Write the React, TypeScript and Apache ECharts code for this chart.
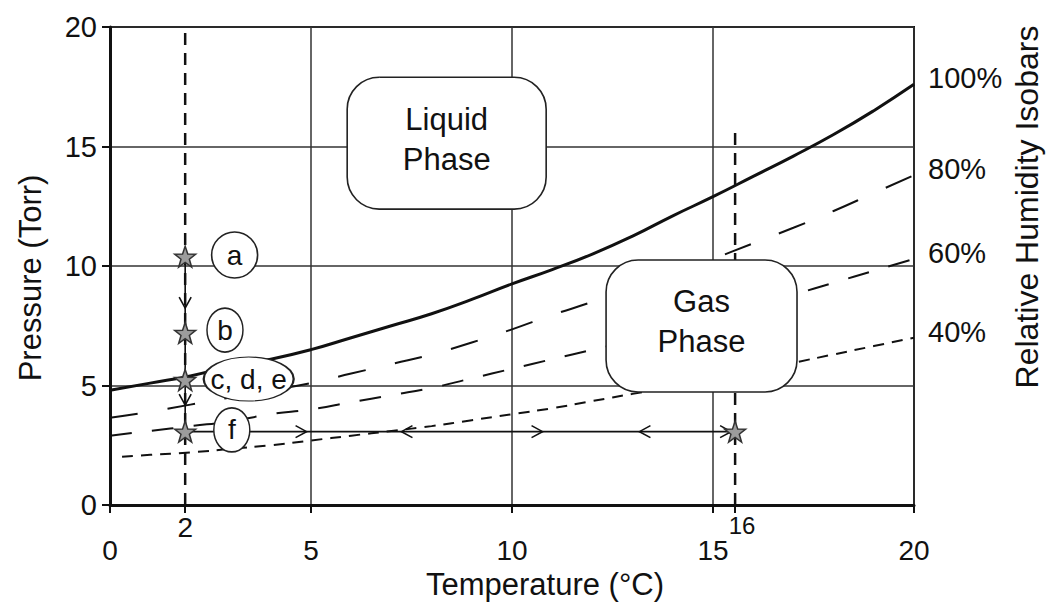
import React, { useEffect, useRef } from 'react';
import * as echarts from 'echarts';

// ---------- data ----------
const temperatures = [0, 1, 2, 3, 4, 5, 6, 7, 8, 9, 10, 11, 12, 13, 14, 15, 16, 17, 18, 19, 20];
const rh100 = [4.8, 5.1, 5.4, 5.8, 6.1, 6.5, 7.0, 7.5, 8.0, 8.6, 9.25, 9.85, 10.5, 11.25, 12.1, 12.9, 13.75, 14.6, 15.5, 16.5, 17.6];
const rh80 = [3.65, 3.9, 4.2, 4.5, 4.8, 5.1, 5.5, 5.9, 6.3, 6.8, 7.35, 7.95, 8.5, 9.1, 9.7, 10.3, 10.95, 11.6, 12.3, 13.05, 13.8];
const rh60 = [2.9, 3.1, 3.3, 3.5, 3.8, 4.0, 4.3, 4.6, 4.9, 5.3, 5.7, 6.1, 6.5, 6.9, 7.4, 7.85, 8.3, 8.8, 9.3, 9.8, 10.3];
const temps40 = [0.3, 1, 2, 3, 4, 5, 6, 7, 8, 9, 10, 11, 12, 13, 14, 15, 16, 17, 18, 19, 20];
const rh40 = [2.02, 2.1, 2.2, 2.35, 2.5, 2.7, 2.9, 3.1, 3.3, 3.55, 3.8, 4.05, 4.35, 4.65, 4.95, 5.3, 5.6, 5.95, 6.3, 6.65, 7.0];
const isobarNames = ['100%', '80%', '60%', '40%'];

// dashed reference temperatures (labelled 2 and 16)
const markerTemps = [1.87, 15.55];
const markerLabels = ['2', '16'];
const markerTops = [20, 15.9];

// process path a -> f -> heating
const pathTemps = [1.87, 1.87, 15.55];
const pathPressures = [10.39, 3.07, 3.07];

// states (stars)
const starTemps = [1.87, 1.87, 1.87, 1.87, 15.55];
const starPressures = [10.39, 7.2, 5.23, 3.07, 3.07];

// state labels
const stateLabels = ['a', 'b', 'c, d, e', 'f'];
const labelTemps = [3.1, 2.86, 3.45, 3.03];
const labelPressures = [10.46, 7.32, 5.27, 3.14];

// arrowheads along the path
const arrowTemps = [4.89, 7.25, 10.76, 13.17, 15.45, 1.87, 1.87];
const arrowPressures = [3.07, 3.07, 3.07, 3.07, 3.07, 8.24, 4.18];
const arrowDirs = ['right', 'left', 'right', 'left', 'right', 'down', 'down'];

// phase boxes
const phaseNames = ['Liquid\nPhase', 'Gas\nPhase'];
const phaseTempMin = [5.9, 12.34];
const phaseTempMax = [10.85, 17.09];
const phasePressMin = [12.38, 4.73];
const phasePressMax = [17.9, 10.25];

// ---------- styling ----------
const FONT = '"Liberation Sans", Arial, Helvetica, sans-serif';
const INK = '#111';
const GRID = '#333';
const STAR = 'path://M0,-1L0.235,-0.324L0.951,-0.309L0.38,0.124L0.588,0.809L0,0.4L-0.588,0.809L-0.38,0.124L-0.951,-0.309L-0.235,-0.324Z';
const ELLIPSE = 'path://M1,0C1,0.552 0.552,1 0,1C-0.552,1 -1,0.552 -1,0C-1,-0.552 -0.552,-1 0,-1C0.552,-1 1,-0.552 1,0Z';
const DIR_CODES = ['right', 'left', 'down'];
const MARKER_STYLES = ['big', 'small'];

function labelSize(name: string): number[] {
  if (name.length > 2) return [90, 44];
  if (name === 'a') return [46, 46];
  return [36, 44];
}

export default function App() {
  const ref = useRef<HTMLDivElement>(null);

  useEffect(() => {
    if (!ref.current) return;
    const chart = echarts.init(ref.current, null, { renderer: 'svg' });

    const isoData = [
      temperatures.map((t, i) => [t, rh100[i]]),
      temperatures.map((t, i) => [t, rh80[i]]),
      temperatures.map((t, i) => [t, rh60[i]]),
      temps40.map((t, i) => [t, rh40[i]]),
    ];
    const isoStyles = [
      { width: 3, type: 'solid' },
      { width: 2, type: [28, 30] },
      { width: 2, type: [22, 20] },
      { width: 2, type: [11, 8] },
    ];

    const isoSeries = isobarNames.map((name, k) => ({
      type: 'line',
      name,
      data: isoData[k],
      symbol: 'none',
      smooth: 0.5,
      z: 3,
      silent: true,
      lineStyle: { color: INK, width: isoStyles[k].width, type: isoStyles[k].type },
      endLabel: {
        show: true,
        formatter: name,
        distance: 14,
        offset: [0, -6],
        fontSize: 29,
        color: INK,
        fontFamily: FONT,
      },
    }));

    const markerSeries = markerTemps.map((t, i) => ({
      type: 'line',
      data: [[t, 0], [t, markerTops[i]]],
      symbol: 'none',
      z: 2,
      silent: true,
      lineStyle: { color: INK, width: 2.5, type: [12, 8] },
    }));

    const option: any = {
      animation: false,
      backgroundColor: '#fff',
      textStyle: { fontFamily: FONT },
      grid: {
        left: 110,
        right: 132,
        top: 27,
        bottom: 105,
        show: true,
        borderColor: INK,
        borderWidth: 2,
        backgroundColor: 'transparent',
      },
      xAxis: [
        {
          type: 'value',
          min: 0,
          max: 20,
          interval: 5,
          axisLine: { show: true, onZero: false, lineStyle: { color: INK, width: 3 } },
          axisTick: { show: true, length: 8, lineStyle: { color: INK, width: 2 } },
          axisLabel: { fontSize: 28, margin: 31, color: INK, fontFamily: FONT },
          splitLine: { show: true, lineStyle: { color: GRID, width: 1.5 } },
          name: 'Temperature (°C)',
          nameLocation: 'middle',
          nameGap: 63,
          nameTextStyle: { fontSize: 31, color: INK, fontFamily: FONT, padding: [0, 0, 0, 66] },
        },
        {
          type: 'value',
          min: 0,
          max: 20,
          position: 'bottom',
          axisLine: { show: false },
          axisTick: { show: true, customValues: markerTemps, length: 8, lineStyle: { color: INK, width: 2 } },
          axisLabel: {
            show: true,
            customValues: markerTemps,
            margin: 8,
            color: INK,
            fontFamily: FONT,
            formatter: (v: number) => {
              const idx = markerTemps.findIndex((t) => Math.abs(t - v) < 1e-6);
              return idx >= 0 ? `{${MARKER_STYLES[idx]}|${markerLabels[idx]}}` : '';
            },
            rich: {
              big: { fontSize: 28, color: INK, fontFamily: FONT },
              small: { fontSize: 24, color: INK, fontFamily: FONT, padding: [0, 0, 0, 14] },
            },
          },
          splitLine: { show: false },
        },
      ],
      yAxis: {
        type: 'value',
        min: 0,
        max: 20,
        interval: 5,
        axisLine: { show: true, onZero: false, lineStyle: { color: INK, width: 3 } },
        axisTick: { show: true, length: 8, lineStyle: { color: INK, width: 2 } },
        axisLabel: { fontSize: 29, margin: 13, color: INK, fontFamily: FONT },
        splitLine: { show: true, lineStyle: { color: GRID, width: 1.5 } },
        name: 'Pressure (Torr)',
        nameLocation: 'middle',
        nameRotate: 90,
        nameGap: 64,
        nameTextStyle: { fontSize: 31, color: INK, fontFamily: FONT, padding: [0, 24, 0, 0] },
      },
      graphic: [
        {
          type: 'text',
          x: 1027,
          y: 207,
          rotation: Math.PI / 2,
          style: {
            text: 'Relative Humidity Isobars',
            fontSize: 32,
            fontFamily: FONT,
            fill: INK,
            align: 'center',
            verticalAlign: 'middle',
          },
        },
      ],
      series: [
        ...markerSeries,
        ...isoSeries,
        {
          type: 'line',
          data: pathTemps.map((t, i) => [t, pathPressures[i]]),
          symbol: 'none',
          z: 4,
          silent: true,
          lineStyle: { color: INK, width: 1.6 },
        },
        {
          type: 'custom',
          z: 5,
          silent: true,
          encode: { x: 0, y: 1 },
          data: arrowTemps.map((t, i) => [t, arrowPressures[i], DIR_CODES.indexOf(arrowDirs[i])]),
          renderItem: (params: any, api: any) => {
            const p = api.coord([api.value(0), api.value(1)]);
            const d = api.value(2);
            const L = 11;
            const W = 6;
            let pts: number[][];
            if (d === 0) pts = [[p[0] - L, p[1] - W], [p[0], p[1]], [p[0] - L, p[1] + W]];
            else if (d === 1) pts = [[p[0] + L, p[1] - W], [p[0], p[1]], [p[0] + L, p[1] + W]];
            else pts = [[p[0] - W, p[1] - L], [p[0], p[1]], [p[0] + W, p[1] - L]];
            return {
              type: 'polyline',
              shape: { points: pts },
              style: { stroke: INK, lineWidth: 1.6, fill: null },
            };
          },
        },
        {
          type: 'scatter',
          z: 6,
          silent: true,
          data: stateLabels.map((n, i) => ({ name: n, value: [labelTemps[i], labelPressures[i]] })),
          symbol: ELLIPSE,
          symbolSize: (_v: any, params: any) => labelSize(params.name),
          itemStyle: { color: '#fff', borderColor: '#222', borderWidth: 1.6, opacity: 1 },
          label: {
            show: true,
            position: 'inside',
            formatter: '{b}',
            fontSize: 28,
            color: INK,
            fontFamily: FONT,
          },
        },
        {
          type: 'scatter',
          z: 8,
          silent: true,
          data: starTemps.map((t, i) => [t, starPressures[i]]),
          symbol: STAR,
          symbolSize: 21,
          itemStyle: { color: '#9c9c9c', borderColor: '#333', borderWidth: 1.5, opacity: 1 },
        },
        {
          type: 'custom',
          z: 10,
          silent: true,
          encode: { x: [0, 2], y: [1, 3] },
          data: phaseNames.map((n, i) => ({
            name: n,
            value: [phaseTempMin[i], phasePressMax[i], phaseTempMax[i], phasePressMin[i]],
          })),
          renderItem: (params: any, api: any) => {
            const tl = api.coord([api.value(0), api.value(1)]);
            const br = api.coord([api.value(2), api.value(3)]);
            const w = br[0] - tl[0];
            const h = br[1] - tl[1];
            return {
              type: 'group',
              children: [
                {
                  type: 'rect',
                  shape: { x: tl[0], y: tl[1], width: w, height: h, r: 32 },
                  style: { fill: '#fff', stroke: '#222', lineWidth: 1.6 },
                },
                {
                  type: 'text',
                  style: {
                    text: phaseNames[params.dataIndex],
                    x: tl[0] + w / 2,
                    y: tl[1] + h / 2 - 4,
                    align: 'center',
                    verticalAlign: 'middle',
                    fontSize: 31,
                    lineHeight: 40,
                    fontFamily: FONT,
                    fill: INK,
                  },
                },
              ],
            };
          },
        },
      ],
    };

    chart.setOption(option);
    return () => {
      chart.dispose();
    };
  }, []);

  return (
    <div
      ref={ref}
      style={{ position: 'absolute', left: 0, top: 0, width: 1046, height: 610, background: '#fff' }}
    />
  );
}
